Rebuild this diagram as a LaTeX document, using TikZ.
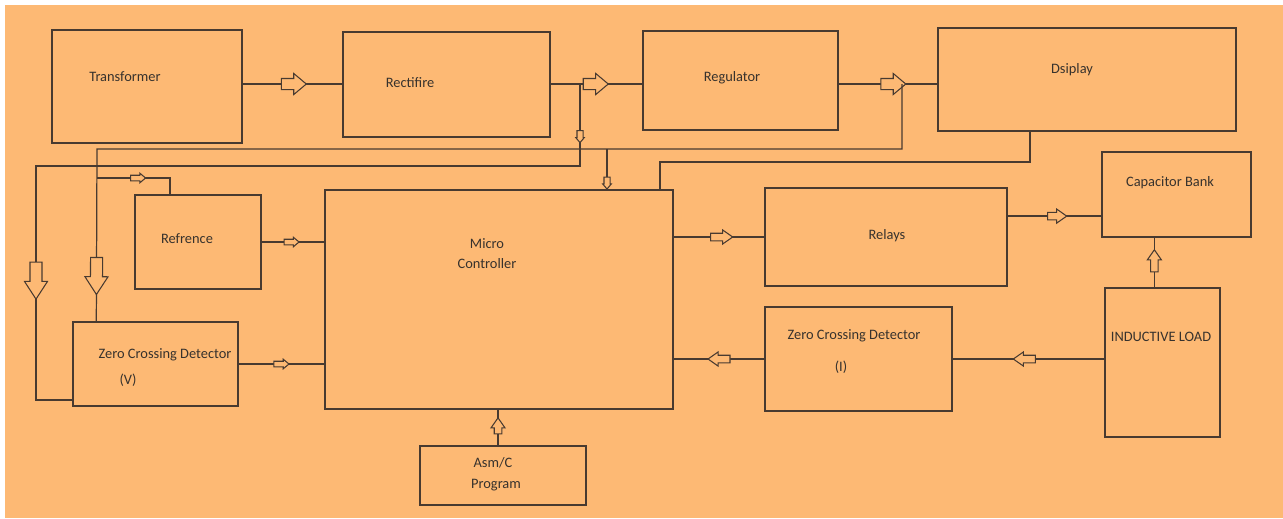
\documentclass[tikz,border=0pt]{standalone}
\usepackage{fontspec}
\setmainfont{Carlito}
\usetikzlibrary{shapes.arrows,calc}
\definecolor{bgorange}{RGB}{253,185,116}
\definecolor{wire}{RGB}{72,58,48}
\definecolor{ink}{RGB}{55,50,45}
\tikzset{
	blk/.style={draw=wire,line width=0.8pt,inner sep=0pt},
	lbl/.style={text=ink,font=\fontsize{8.2}{10}\selectfont,inner sep=0pt},
	link/.style={draw=wire,line width=0.7pt},
	hollow/.style={single arrow,draw=wire,fill=bgorange,line width=0.6pt,inner xsep=0pt,sloped,allow upside down},
	bigarr/.style={hollow,minimum height=0.5cm,inner ysep=0.1cm,single arrow head extend=0.1cm,single arrow tip angle=80},
	tallarr/.style={hollow,minimum height=0.74cm,inner ysep=0.11cm,single arrow head extend=0.11cm,single arrow tip angle=66},
	midarr/.style={hollow,minimum height=0.44cm,inner ysep=0.065cm,single arrow head extend=0.065cm,single arrow tip angle=70},
	smallarr/.style={hollow,minimum height=0.3cm,inner ysep=0.045cm,single arrow head extend=0.04cm,single arrow tip angle=80},
	tinyarr/.style={hollow,minimum height=0.24cm,inner ysep=0.05cm,single arrow head extend=0.025cm,single arrow tip angle=80}
}
\begin{document}
\begin{tikzpicture}[x=0.02cm,y=-0.02cm]
	\useasboundingbox (0,0) rectangle (1283,518);
	\fill[bgorange] (5,5) rectangle (1283,518);
	
	% blocks
	\node[blk,minimum width=3.8cm,minimum height=2.26cm] (trans) at (147,86.5) {};
	\node[blk,minimum width=4.14cm,minimum height=2.1cm] (rect) at (446.5,84.5) {};
	\node[blk,minimum width=3.9cm,minimum height=1.98cm] (reg) at (740.5,80.5) {};
	\node[blk,minimum width=5.96cm,minimum height=2.06cm] (disp) at (1087,79.5) {};
	\node[blk,minimum width=2.98cm,minimum height=1.7cm] (cap) at (1176.5,194.5) {};
	\node[blk,minimum width=2.52cm,minimum height=1.88cm] (ref) at (198,242) {};
	\node[blk,minimum width=6.96cm,minimum height=4.38cm] (mcu) at (499,299.5) {};
	\node[blk,minimum width=4.84cm,minimum height=1.96cm] (relay) at (886,237) {};
	\node[blk,minimum width=3.3cm,minimum height=1.68cm] (zcdv) at (155.5,364) {};
	\node[blk,minimum width=3.74cm,minimum height=2.08cm] (zcdi) at (858.5,359) {};
	\node[blk,minimum width=2.3cm,minimum height=2.98cm] (load) at (1162.5,362.5) {};
	\node[blk,minimum width=3.32cm,minimum height=1.18cm] (prog) at (503,475.5) {};
	
	\node[lbl] (transtxt) at (125,77) {Transformer};
	\node[lbl] (recttxt) at (410,83) {Rectifire};
	\node[lbl] (regtxt) at (732,78) {Regulator};
	\node[lbl] (disptxt) at (1072,70) {Dsiplay};
	\node[lbl] (captxt) at (1170,183) {Capacitor Bank};
	\node[lbl] (reftxt) at (187,239) {Refrence};
	\node[lbl] (mcutxt) at (487,244) {Micro};
	\node[lbl] (mcutxtb) at (487,264) {Controller};
	\node[lbl] (relaytxt) at (887,236) {Relays};
	\node[lbl] (zcdvtxt) at (165,355) {Zero Crossing Detector};
	\node[lbl] (zcdvtxtb) at (128,380) {(V)};
	\node[lbl] (zcditxt) at (854,336) {Zero Crossing Detector};
	\node[lbl] (zcditxtb) at (841,367) {(I)};
	\node[lbl] (loadtxt) at (1161,337) {INDUCTIVE LOAD};
	\node[lbl] (progtxt) at (493,463) {Asm/C};
	\node[lbl] (progtxtb) at (496,485) {Program};
	
	% supply chain
	\coordinate (bus) at (0,84);
	\coordinate (j1) at (580,84);
	\coordinate (j2) at (902,84);
	\draw[link] (trans.east|-bus) -- node[bigarr,pos=.48] (a1) {} (rect.west|-bus);
	\draw[link] (rect.east|-bus) -- (j1) -- node[bigarr,pos=.2] (a2) {} (reg.west|-bus);
	\draw[link] (reg.east|-bus) -- node[bigarr,pos=.52] (a3) {} (disp.west|-bus);
	
	% feedback wires
	\coordinate (v1) at (580,166);
	\coordinate (v2) at (36,166);
	\coordinate (v3) at (36,400);
	\draw[link] (j1) -- node[tinyarr,pos=.62] (a4) {} (v1) -- (v2) -- node[tallarr,pos=.47] (a5) {} (v3) -- (v3-|zcdv.west);
	
	\coordinate (w1) at (902,149);
	\coordinate (w2) at (97,149);
	\coordinate (w3) at (607,149);
	\draw[link] (j2) -- (w1) -- (w2) -- node[tallarr,pos=.71] (a6) {} ($(zcdv.north west)+(24,0)$);
	\draw[link] (w3) -- node[tinyarr,pos=.8] (a7) {} (w3|-mcu.north);
	
	\coordinate (r1) at (97,178);
	\coordinate (r2) at (170,178);
	\draw[link] (r1) -- node[smallarr,pos=.54] (a8) {} (r2) -- (r2|-ref.north);
	
	\coordinate (d1) at (1030,162);
	\coordinate (d2) at (660,162);
	\draw[link] (d1|-disp.south) -- (d1) -- (d2) -- (d2|-mcu.north);
	
	% controller links
	\draw[link] (ref.east) -- node[smallarr,pos=.45] (a9) {} (ref.east-|mcu.west);
	\draw[link] (zcdv.east) -- node[smallarr,pos=.48] (a10) {} (zcdv.east-|mcu.west);
	\draw[link] (mcu.east|-relay.west) -- node[midarr] (a11) {} (relay.west);
	\coordinate (cw) at ($(cap.south west)!.25!(cap.north west)$);
	\draw[link] (cw-|relay.east) -- node[midarr,minimum height=0.38cm] (a12) {} (cw);
	\coordinate (ln) at ($(load.north west)!.43!(load.north east)$);
	\draw[link] (ln) -- node[midarr,pos=.48] (a13) {} (ln|-cap.south);
	\draw[link] (zcdi.east-|load.west) -- node[midarr,pos=.51] (a14) {} (zcdi.east);
	\draw[link] (zcdi.west) -- node[midarr,pos=.47] (a15) {} (zcdi.west-|mcu.east);
	\draw[link] ($(prog.north)+(-5,0)$) -- node[midarr,minimum height=0.32cm,pos=.47] (a16) {} ($(prog.north|-mcu.south)+(-5,0)$);
\end{tikzpicture}
\end{document}
